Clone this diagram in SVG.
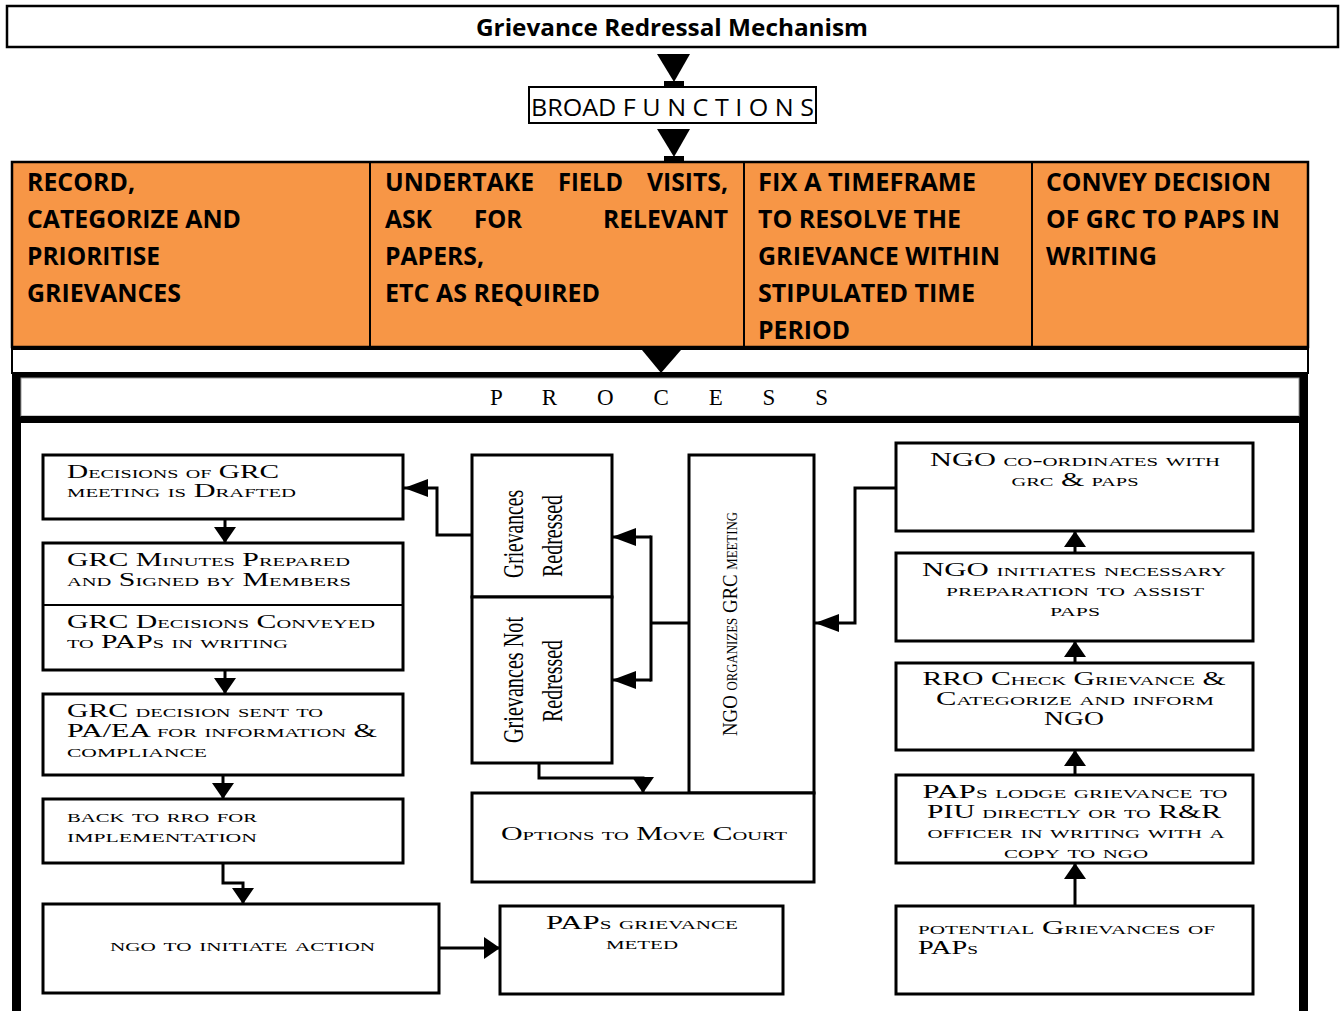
<svg xmlns="http://www.w3.org/2000/svg" width="1344" height="1011" viewBox="0 0 1344 1011">
<defs>
<style>
.box{fill:#fff;stroke:#000;stroke-width:3}
.conn{fill:none;stroke:#000;stroke-width:3}
.sc{font-family:"Liberation Serif","Times New Roman",serif;font-variant:small-caps;font-size:19px;fill:#000}
.rot{font-family:"Liberation Serif","Times New Roman",serif;font-size:30px;fill:#000}
.or{font-family:"Open Sans","Liberation Sans",sans-serif;font-weight:700;font-size:25px;fill:#000}
.mid{text-anchor:middle}
</style>
<marker id="ah" viewBox="0 0 16 22" refX="16" refY="11" markerWidth="16" markerHeight="22" orient="auto" markerUnits="userSpaceOnUse"><path d="M0,0 L16,11 L0,22 Z" fill="#000"/></marker>
<marker id="ahl" viewBox="0 0 24 18" refX="24" refY="9" markerWidth="24" markerHeight="18" orient="auto" markerUnits="userSpaceOnUse"><path d="M0,0 L24,9 L0,18 Z" fill="#000"/></marker>
</defs>
<rect width="1344" height="1011" fill="#fff"/>

<g id="title">
<rect x="7" y="6" width="1331" height="41" fill="#fff" stroke="#000" stroke-width="2.5"/>
<text x="672" y="36" class="mid" font-family="Open Sans, Liberation Sans, sans-serif" font-weight="700" font-size="24" textLength="392" lengthAdjust="spacingAndGlyphs">Grievance Redressal Mechanism</text>
</g>

<g id="broad-functions">
<rect x="529" y="87" width="287" height="36" fill="#fff" stroke="#000" stroke-width="2"/>
<text x="531" y="116" font-family="Open Sans, Liberation Sans, sans-serif" font-size="24" textLength="283" lengthAdjust="spacingAndGlyphs">BROAD F U N C T I O N S</text>
</g>

<g id="functions">
<rect x="12" y="162" width="1296" height="185" fill="#F79646" stroke="#000" stroke-width="2.5"/>
<line x1="370" y1="162" x2="370" y2="347" stroke="#000" stroke-width="2"/>
<line x1="744" y1="162" x2="744" y2="347" stroke="#000" stroke-width="2"/>
<line x1="1032" y1="162" x2="1032" y2="347" stroke="#000" stroke-width="2"/>
<g id="f1" class="or">
<text x="27" y="191" textLength="108" lengthAdjust="spacingAndGlyphs">RECORD,</text>
<text x="27" y="228" textLength="214" lengthAdjust="spacingAndGlyphs">CATEGORIZE AND</text>
<text x="27" y="265" textLength="133" lengthAdjust="spacingAndGlyphs">PRIORITISE</text>
<text x="27" y="302" textLength="154" lengthAdjust="spacingAndGlyphs">GRIEVANCES</text>
</g>
<g id="f2" class="or">
<text x="385" y="191" textLength="149" lengthAdjust="spacingAndGlyphs">UNDERTAKE</text>
<text x="558" y="191" textLength="65" lengthAdjust="spacingAndGlyphs">FIELD</text>
<text x="647" y="191" textLength="81" lengthAdjust="spacingAndGlyphs">VISITS,</text>
<text x="385" y="228" textLength="47" lengthAdjust="spacingAndGlyphs">ASK</text>
<text x="474" y="228" textLength="48" lengthAdjust="spacingAndGlyphs">FOR</text>
<text x="603" y="228" textLength="125" lengthAdjust="spacingAndGlyphs">RELEVANT</text>
<text x="385" y="265" textLength="99" lengthAdjust="spacingAndGlyphs">PAPERS,</text>
<text x="385" y="302" textLength="215" lengthAdjust="spacingAndGlyphs">ETC AS REQUIRED</text>
</g>
<g id="f3" class="or">
<text x="758" y="191" textLength="218" lengthAdjust="spacingAndGlyphs">FIX A TIMEFRAME</text>
<text x="758" y="228" textLength="203" lengthAdjust="spacingAndGlyphs">TO RESOLVE THE</text>
<text x="758" y="265" textLength="242" lengthAdjust="spacingAndGlyphs">GRIEVANCE WITHIN</text>
<text x="758" y="302" textLength="217" lengthAdjust="spacingAndGlyphs">STIPULATED TIME</text>
<text x="758" y="339" textLength="92" lengthAdjust="spacingAndGlyphs">PERIOD</text>
</g>
<g id="f4" class="or">
<text x="1046" y="191" textLength="225" lengthAdjust="spacingAndGlyphs">CONVEY DECISION</text>
<text x="1046" y="228" textLength="234" lengthAdjust="spacingAndGlyphs">OF GRC TO PAPS IN</text>
<text x="1046" y="265" textLength="111" lengthAdjust="spacingAndGlyphs">WRITING</text>
</g>
</g>

<g id="strip">
<rect x="12" y="349" width="1296" height="24" fill="#fff" stroke="#000" stroke-width="2"/>
</g>

<g id="process-frame">
<rect x="12" y="373" width="1296" height="5" fill="#000"/>
<rect x="12" y="373" width="9" height="640" fill="#000"/>
<rect x="1299" y="373" width="9" height="640" fill="#000"/>
<rect x="21" y="378" width="1278" height="38" fill="#fff" stroke="#999" stroke-width="1"/>
<rect x="21" y="416" width="1278" height="7" fill="#000"/>
<text x="490" y="405" font-family="Liberation Serif, Times New Roman, serif" font-size="23" textLength="338" lengthAdjust="spacing">P R O C E S S</text>
</g>

<g id="decisions-drafted">
<rect class="box" x="43" y="455" width="360" height="64"/>
<text class="sc" x="67" y="478" textLength="212" lengthAdjust="spacingAndGlyphs">Decisions of GRC</text>
<text class="sc" x="67" y="497" textLength="229" lengthAdjust="spacingAndGlyphs">meeting is Drafted</text>
</g>
<g id="minutes-conveyed">
<rect class="box" x="43" y="543" width="360" height="127"/>
<line x1="43" y1="605" x2="403" y2="605" stroke="#000" stroke-width="2"/>
<text class="sc" x="67" y="566" textLength="283" lengthAdjust="spacingAndGlyphs">GRC Minutes Prepared</text>
<text class="sc" x="67" y="586" textLength="284" lengthAdjust="spacingAndGlyphs">and Signed by Members</text>
<text class="sc" x="67" y="628" textLength="308" lengthAdjust="spacingAndGlyphs">GRC Decisions Conveyed</text>
<text class="sc" x="67" y="648" textLength="221" lengthAdjust="spacingAndGlyphs">to PAPs in writing</text>
</g>
<g id="decision-sent">
<rect class="box" x="43" y="694" width="360" height="81"/>
<text class="sc" x="67" y="717" textLength="256" lengthAdjust="spacingAndGlyphs">GRC decision sent to</text>
<text class="sc" x="67" y="737" textLength="310" lengthAdjust="spacingAndGlyphs">PA/EA for information &amp;</text>
<text class="sc" x="67" y="757" textLength="140" lengthAdjust="spacingAndGlyphs">compliance</text>
</g>
<g id="back-to-rro">
<rect class="box" x="43" y="799" width="360" height="64"/>
<text class="sc" x="67" y="822" textLength="190" lengthAdjust="spacingAndGlyphs">back to rro for</text>
<text class="sc" x="67" y="842" textLength="190" lengthAdjust="spacingAndGlyphs">implementation</text>
</g>
<g id="ngo-initiate-action">
<rect class="box" x="43" y="904" width="396" height="89"/>
<text class="sc" x="110" y="951" textLength="265" lengthAdjust="spacingAndGlyphs">ngo to initiate action</text>
</g>
<g id="paps-grievance-meted">
<rect class="box" x="500" y="906" width="283" height="88"/>
<text class="sc mid" x="642" y="929" textLength="192" lengthAdjust="spacingAndGlyphs">PAPs grievance</text>
<text class="sc mid" x="642" y="949" textLength="72" lengthAdjust="spacingAndGlyphs">meted</text>
</g>

<g id="grievances-redressed">
<rect class="box" x="472" y="455" width="140" height="142"/>
<text class="rot mid" transform="translate(523,534) rotate(-90)" textLength="88" lengthAdjust="spacingAndGlyphs">Grievances</text>
<text class="rot mid" transform="translate(562,536) rotate(-90)" textLength="82" lengthAdjust="spacingAndGlyphs">Redressed</text>
</g>
<g id="grievances-not-redressed">
<rect class="box" x="472" y="597" width="140" height="166"/>
<text class="rot mid" transform="translate(523,680) rotate(-90)" textLength="126" lengthAdjust="spacingAndGlyphs">Grievances Not</text>
<text class="rot mid" transform="translate(562,681) rotate(-90)" textLength="82" lengthAdjust="spacingAndGlyphs">Redressed</text>
</g>
<g id="ngo-organizes-meeting">
<rect class="box" x="689" y="455" width="125" height="338"/>
<text class="sc mid" style="font-size:22px" transform="translate(737,624) rotate(-90)" textLength="224" lengthAdjust="spacingAndGlyphs">NGO organizes GRC meeting</text>
</g>
<g id="options-court">
<rect class="box" x="472" y="793" width="342" height="89"/>
<text class="sc mid" x="644" y="840" textLength="286" lengthAdjust="spacingAndGlyphs">Options to Move Court</text>
</g>

<g id="ngo-coordinates">
<rect class="box" x="896" y="443" width="357" height="88"/>
<text class="sc mid" x="1075" y="466" textLength="290" lengthAdjust="spacingAndGlyphs">NGO co-ordinates with</text>
<text class="sc mid" x="1075" y="486" textLength="127" lengthAdjust="spacingAndGlyphs">grc &amp; paps</text>
</g>
<g id="ngo-initiates-preparation">
<rect class="box" x="896" y="553" width="357" height="88"/>
<text class="sc mid" x="1074" y="576" textLength="304" lengthAdjust="spacingAndGlyphs">NGO initiates necessary</text>
<text class="sc mid" x="1075" y="596" textLength="258" lengthAdjust="spacingAndGlyphs">preparation to assist</text>
<text class="sc mid" x="1075" y="616" textLength="50" lengthAdjust="spacingAndGlyphs">paps</text>
</g>
<g id="rro-check">
<rect class="box" x="896" y="663" width="357" height="87"/>
<text class="sc mid" x="1074" y="685" textLength="303" lengthAdjust="spacingAndGlyphs">RRO Check Grievance &amp;</text>
<text class="sc mid" x="1075" y="705" textLength="278" lengthAdjust="spacingAndGlyphs">Categorize and inform</text>
<text class="sc mid" x="1074" y="725" textLength="60" lengthAdjust="spacingAndGlyphs">NGO</text>
</g>
<g id="paps-lodge">
<rect class="box" x="896" y="775" width="357" height="88"/>
<text class="sc mid" x="1075" y="798" textLength="305" lengthAdjust="spacingAndGlyphs">PAPs lodge grievance to</text>
<text class="sc mid" x="1074" y="818" textLength="294" lengthAdjust="spacingAndGlyphs">PIU directly or to R&amp;R</text>
<text class="sc mid" x="1076" y="838" textLength="297" lengthAdjust="spacingAndGlyphs">officer in writing with a</text>
<text class="sc mid" x="1076" y="858" textLength="144" lengthAdjust="spacingAndGlyphs">copy to ngo</text>
</g>
<g id="potential-grievances">
<rect class="box" x="896" y="906" width="357" height="88"/>
<text class="sc" x="918" y="934" textLength="297" lengthAdjust="spacingAndGlyphs">potential Grievances of</text>
<text class="sc" x="918" y="954" textLength="60" lengthAdjust="spacingAndGlyphs">PAPs</text>
</g>

<g id="connectors">
<polygon points="657,54 690,54 674,82" fill="#000"/>
<rect x="664" y="81" width="20" height="6" fill="#000"/>
<polygon points="657,129 690,129 674,157" fill="#000"/>
<rect x="664" y="156" width="20" height="6" fill="#000"/>
<polygon points="642,350 681,350 661,373" fill="#000"/>

<line class="conn" x1="225" y1="519" x2="225" y2="543" marker-end="url(#ah)"/>
<line class="conn" x1="225" y1="670" x2="225" y2="694" marker-end="url(#ah)"/>
<line class="conn" x1="223" y1="775" x2="223" y2="799" marker-end="url(#ah)"/>
<polyline class="conn" points="223,863 223,883 243,883 243,904" marker-end="url(#ah)"/>
<line class="conn" x1="439" y1="948" x2="500" y2="948" marker-end="url(#ah)"/>

<polyline class="conn" points="472,535 437,535 437,488 404,488" marker-end="url(#ahl)"/>
<line class="conn" x1="689" y1="623" x2="651" y2="623"/>
<line class="conn" x1="651" y1="535.5" x2="651" y2="681.5"/>
<line class="conn" x1="651" y1="537" x2="612" y2="537" marker-end="url(#ahl)"/>
<line class="conn" x1="651" y1="680" x2="612" y2="680" marker-end="url(#ahl)"/>
<polyline class="conn" points="539,763 539,778 643,778 643,793" marker-end="url(#ah)"/>
<polyline class="conn" points="896,488 855,488 855,623 815,623" marker-end="url(#ahl)"/>

<line class="conn" x1="1075" y1="553" x2="1075" y2="531" marker-end="url(#ah)"/>
<line class="conn" x1="1075" y1="663" x2="1075" y2="641" marker-end="url(#ah)"/>
<line class="conn" x1="1075" y1="775" x2="1075" y2="750" marker-end="url(#ah)"/>
<line class="conn" x1="1075" y1="906" x2="1075" y2="863" marker-end="url(#ah)"/>
</g>
</svg>
